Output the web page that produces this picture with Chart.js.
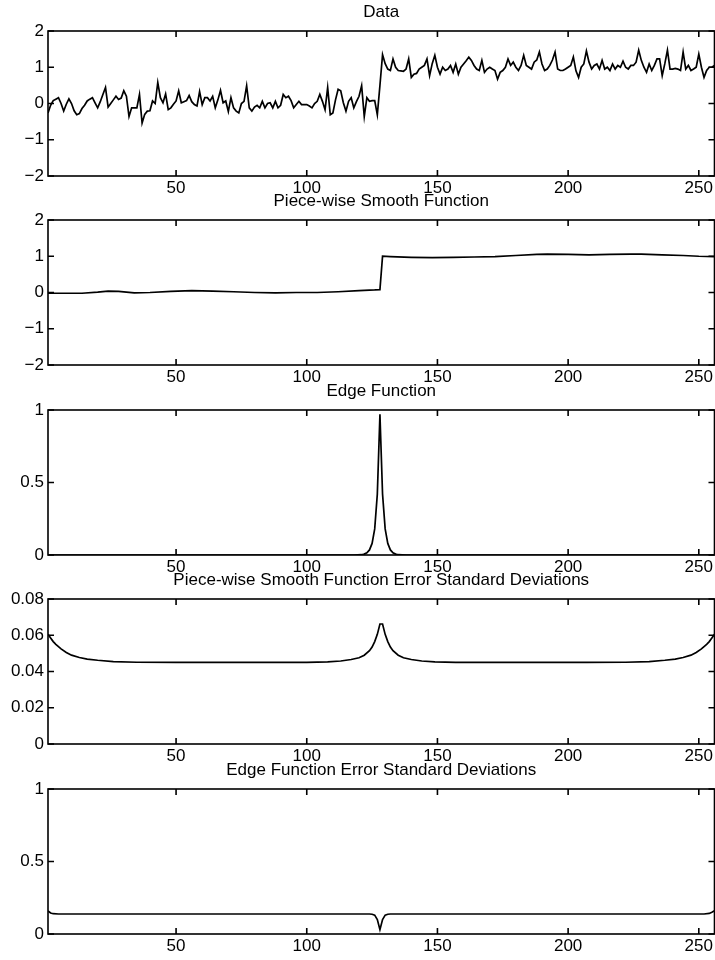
<!DOCTYPE html>
<html><head><meta charset="utf-8">
<script src="https://cdn.jsdelivr.net/npm/chart.js@4.4.1/dist/chart.umd.min.js"></script>
<style>
html,body{margin:0;padding:0;background:#fff;}
#wrap{position:relative;width:715px;height:960px;overflow:hidden;background:#fff;}
canvas{position:absolute;left:0;}
</style></head><body><div id="wrap"></div>
<script>
// ---------- data ----------
const xTickValues = [50, 100, 150, 200, 250];
const titles = ["Data", "Piece-wise Smooth Function", "Edge Function",
  "Piece-wise Smooth Function Error Standard Deviations", "Edge Function Error Standard Deviations"];

// panel 1: noisy data, samples 1..256
const dataValues = [
 -0.26,-0.05,0.08,0.12,0.16,0.0,-0.21,-0.02,0.13,0.0,
 -0.2,-0.31,-0.28,-0.14,-0.05,0.07,0.12,0.16,0.02,-0.12,
 0.05,0.25,0.44,-0.1,0.0,0.1,0.2,0.11,0.15,0.35,
 0.2,-0.36,-0.12,-0.12,-0.12,0.25,-0.54,-0.3,-0.21,-0.2,
 0.07,0.0,0.58,0.16,0.02,0.26,-0.17,-0.12,-0.02,0.07,
 0.35,0.02,0.05,0.08,0.22,0.05,-0.03,-0.07,0.33,-0.03,
 0.16,0.16,0.07,0.2,-0.12,0.1,0.36,0.02,0.07,-0.22,
 0.16,-0.12,-0.21,-0.26,0.0,0.06,0.49,-0.12,-0.21,-0.1,
 -0.05,-0.12,0.06,-0.12,0.0,0.02,-0.12,0.06,-0.12,-0.05,
 0.25,0.16,0.2,0.08,-0.12,-0.03,0.06,-0.03,-0.03,-0.03,
 -0.07,-0.12,0.0,0.06,0.25,0.06,-0.17,0.44,-0.31,-0.26,
 0.1,0.39,0.35,0.02,-0.21,0.06,0.16,-0.12,0.05,0.2,
 0.49,-0.36,0.16,0.06,0.08,0.08,-0.31,0.5,1.35,1.1,
 0.95,0.91,1.23,1.0,0.91,0.9,0.89,0.95,1.23,0.72,
 0.81,0.83,0.95,1.0,1.05,1.23,0.77,1.1,1.33,1.0,
 0.81,1.0,0.91,0.95,1.05,0.86,1.09,0.81,1.0,1.09,
 1.18,1.28,1.19,1.05,0.95,0.91,1.19,0.86,0.95,1.0,
 0.95,0.91,0.67,0.86,0.91,1.0,1.23,1.05,1.14,1.0,
 0.91,1.05,1.33,1.05,1.0,0.95,1.14,1.2,1.42,1.09,
 0.91,0.95,1.05,1.2,1.42,0.95,0.91,0.91,0.95,1.0,
 1.05,1.28,0.9,0.72,1.0,1.09,1.45,1.14,0.95,1.05,
 1.09,0.95,1.19,0.95,1.0,0.91,1.09,0.95,1.05,1.0,
 1.17,1.0,0.95,1.05,1.05,1.14,1.47,1.19,1.0,0.86,
 1.09,0.91,1.05,1.23,1.23,0.77,1.1,1.47,0.95,0.95,
 0.97,0.95,0.91,1.42,0.95,1.05,0.91,0.95,1.0,1.36,
 1.0,0.72,0.91,1.0,1.0,1.05
];
const dataX = dataValues.map((_, i) => i + 1);

// panel 2: piece-wise smooth function
const smoothX = [1,8,14,20,24,28,34,40,48,56,64,72,80,88,96,104,112,120,126,128,129,132,140,148,156,164,172,180,188,192,200,208,216,224,228,236,244,250,256];
const smoothY = [-0.02,-0.02,-0.02,0.01,0.04,0.03,-0.01,0.0,0.03,0.05,0.04,0.02,0.0,-0.01,0.0,0.0,0.02,0.05,0.07,0.08,1.0,0.99,0.97,0.96,0.97,0.98,0.99,1.02,1.05,1.06,1.05,1.04,1.05,1.06,1.06,1.04,1.02,1.0,0.99];

// panel 3: edge function
const edgeX = [1,118,121,122,123,124,125,126,127,128,129,130,131,132,133,134,135,138,256];
const edgeY = [0,0,0.002,0.006,0.015,0.035,0.08,0.18,0.42,0.97,0.42,0.18,0.08,0.035,0.015,0.006,0.002,0,0];

// panel 4: smooth-function error standard deviations
const smoothErrX = [1,2,3,4,6,8,10,13,16,20,26,35,50,100,108,113,117,120,122,124,125,126,127,128,129,130,131,132,133,135,137,140,144,149,157,207,222,231,237,241,244,247,249,251,253,254,255,256];
const smoothErrY = [0.0605,0.0585,0.0565,0.055,0.0525,0.0505,0.049,0.0477,0.0468,0.0462,0.0455,0.0451,0.045,0.045,0.0453,0.0458,0.0466,0.0476,0.049,0.0515,0.0535,0.0565,0.0605,0.0662,0.0662,0.0605,0.0565,0.0535,0.0515,0.049,0.0476,0.0466,0.0458,0.0453,0.045,0.045,0.0451,0.0455,0.0462,0.0468,0.0477,0.049,0.0505,0.0525,0.055,0.0565,0.0585,0.0605];

// panel 5: edge-function error standard deviations
const edgeErrX = [1,2,3,5,124,125,126,127,128,129,130,131,132,252,254,255,256];
const edgeErrY = [0.16,0.145,0.14,0.138,0.138,0.136,0.13,0.1,0.03,0.1,0.13,0.136,0.138,0.138,0.142,0.15,0.16];

// y ranges and tick labels
const yRanges = [[-2,2],[-2,2],[0,1],[0,0.08],[0,1]];
const yTickSets = [[-2,-1,0,1,2],[-2,-1,0,1,2],[0,0.5,1],[0,0.02,0.04,0.06,0.08],[0,0.5,1]];

// ---------- drawing ----------
const FONT = "'Liberation Sans', Arial, Helvetica, sans-serif";
const FSIZE = 17;
Chart.defaults.font.family = FONT;
Chart.defaults.color = '#000';

const panelTops = [0, 189, 379, 568, 758];
const CANVAS_H = 200;

const boxPlugin = {
  id: 'matlabBox',
  afterDraw(chart) {
    const {ctx, chartArea: a} = chart;
    const x = chart.scales.x, y = chart.scales.y;
    ctx.save();
    ctx.strokeStyle = '#000';
    ctx.lineWidth = 1.6;
    ctx.strokeRect(a.left, a.top, a.right - a.left, a.bottom - a.top);
    ctx.beginPath();
    const L = 6;
    x.ticks.forEach(t => {
      const px = x.getPixelForValue(t.value);
      ctx.moveTo(px, a.bottom); ctx.lineTo(px, a.bottom - L);
      ctx.moveTo(px, a.top); ctx.lineTo(px, a.top + L);
    });
    y.ticks.forEach(t => {
      const py = y.getPixelForValue(t.value);
      ctx.moveTo(a.left, py); ctx.lineTo(a.left + L, py);
      ctx.moveTo(a.right, py); ctx.lineTo(a.right - L, py);
    });
    ctx.stroke();
    ctx.restore();
  }
};

const fmt = v => (v < 0 ? '\u2212' + Math.abs(v) : String(v));
const wrap = document.getElementById('wrap');

function makePanel(k, xs, ys) {
  const c = document.createElement('canvas');
  c.width = 715; c.height = CANVAS_H;
  c.style.top = panelTops[k] + 'px';
  wrap.appendChild(c);
  const pts = xs.map((xv, i) => ({x: xv, y: ys[i]}));
  new Chart(c, {
    type: 'line',
    data: {datasets: [{data: pts, borderColor: '#000', borderWidth: 1.7, pointRadius: 0, tension: 0, fill: false}]},
    options: {
      responsive: false, animation: false, devicePixelRatio: 1,
      layout: {padding: {left: 0, right: 0, top: 0, bottom: 0}},
      plugins: {
        legend: {display: false}, tooltip: {enabled: false},
        title: {display: true, text: titles[k], fullSize: false, color: '#000',
          font: {family: FONT, size: FSIZE, weight: 'normal', lineHeight: 1.2},
          padding: {top: 2, bottom: 31 - 2 - FSIZE * 1.2}}
      },
      scales: {
        x: {
          type: 'linear', min: 1, max: 256,
          afterBuildTicks: s => { s.ticks = xTickValues.map(v => ({value: v})); },
          afterFit: s => { s.height = CANVAS_H - 176; },
          grid: {display: false, drawTicks: false}, border: {display: false},
          ticks: {color: '#000', font: {family: FONT, size: FSIZE}, padding: 2, maxRotation: 0, autoSkip: false, callback: v => String(v)}
        },
        y: {
          type: 'linear', min: yRanges[k][0], max: yRanges[k][1],
          afterBuildTicks: s => { s.ticks = yTickSets[k].map(v => ({value: v})); },
          afterFit: s => { s.width = 48; },
          grid: {display: false, drawTicks: false}, border: {display: false},
          ticks: {color: '#000', font: {family: FONT, size: FSIZE}, padding: 4, autoSkip: false, callback: fmt}
        }
      }
    },
    plugins: [boxPlugin]
  });
}

makePanel(0, dataX, dataValues);
makePanel(1, smoothX, smoothY);
makePanel(2, edgeX, edgeY);
makePanel(3, smoothErrX, smoothErrY);
makePanel(4, edgeErrX, edgeErrY);
</script></body></html>
